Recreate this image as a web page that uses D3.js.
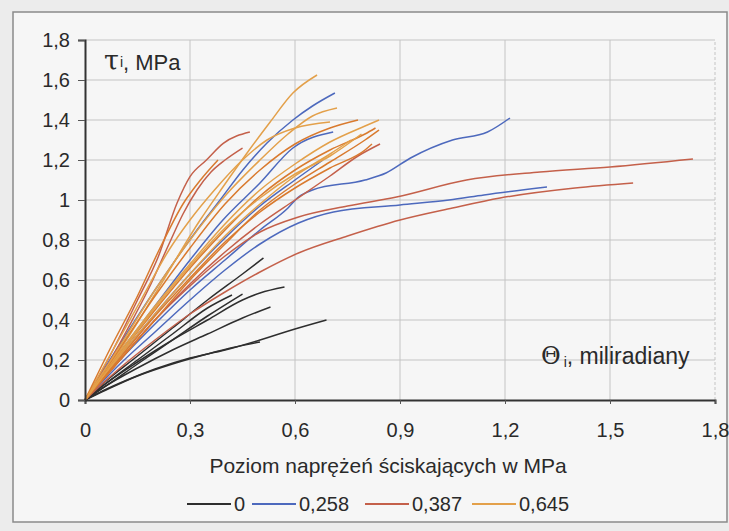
<!DOCTYPE html>
<html>
<head>
<meta charset="utf-8">
<script src="https://cdn.jsdelivr.net/npm/d3@7/dist/d3.min.js"></script>
<style>
  body { margin: 0; background: #ececec; }
  svg { display: block; font-family: "Liberation Sans", Arial, sans-serif; }
</style>
</head>
<body>
<div id="chart"></div>
<script>
// ticks
var xTicks = [0, 0.3, 0.6, 0.9, 1.2, 1.5, 1.8];
var yTicks = [0, 0.2, 0.4, 0.6, 0.8, 1, 1.2, 1.4, 1.6, 1.8];

// legend (poziom naprezen sciskajacych)
var seriesNames = ["0", "0,258", "0,387", "0,645"];
var seriesColors = ["#2e2e2e", "#4d69bd", "#c4604a", "#e3a04a"];

// curves, [theta, tau]
var curves0 = [
  [[0,0],[0.05,0.045],[0.12,0.1],[0.2,0.155],[0.3,0.21],[0.4,0.25],[0.5,0.3],[0.6,0.355],[0.69,0.4]],
  [[0,0],[0.06,0.05],[0.15,0.12],[0.25,0.18],[0.35,0.23],[0.43,0.265],[0.5,0.29]],
  [[0,0],[0.05,0.06],[0.15,0.16],[0.25,0.25],[0.35,0.33],[0.45,0.41],[0.53,0.465]],
  [[0,0],[0.05,0.07],[0.15,0.19],[0.25,0.3],[0.35,0.4],[0.45,0.5],[0.5,0.535],[0.57,0.565]],
  [[0,0],[0.05,0.08],[0.15,0.22],[0.25,0.36],[0.35,0.5],[0.45,0.63],[0.51,0.71]],
  [[0,0],[0.05,0.07],[0.15,0.2],[0.25,0.33],[0.35,0.46],[0.42,0.525]],
  [[0,0],[0.06,0.07],[0.15,0.18],[0.25,0.3],[0.35,0.42],[0.45,0.53]]
];
var curves258 = [
  [[0,0],[0.1,0.28],[0.2,0.55],[0.32,0.85],[0.386,1],[0.451,1.15],[0.52,1.285],[0.594,1.4],[0.65,1.47],[0.714,1.535]],
  [[0,0],[0.1,0.24],[0.2,0.47],[0.3,0.7],[0.394,0.9],[0.5,1.085],[0.594,1.26],[0.709,1.34]],
  [[0,0],[0.1,0.22],[0.2,0.43],[0.3,0.63],[0.4,0.81],[0.5,0.97],[0.6,1.1],[0.68,1.2]],
  [[0,0],[0.1,0.2],[0.2,0.38],[0.3,0.55],[0.4,0.7],[0.5,0.85],[0.58,0.96],[0.61,1.015],[0.65,1.05],[0.8,1.1],[0.86,1.135],[0.93,1.21],[1.05,1.3],[1.15,1.34],[1.214,1.41]],
  [[0,0],[0.1,0.18],[0.2,0.34],[0.3,0.5],[0.4,0.65],[0.5,0.78],[0.61,0.885],[0.71,0.94],[0.9,0.975],[1.04,1],[1.14,1.025],[1.32,1.065]]
];
var curves387 = [
  [[0,0],[0.1,0.2],[0.2,0.4],[0.3,0.57],[0.4,0.72],[0.5,0.84],[0.61,0.915],[0.75,0.97],[0.89,1.015],[1.09,1.1],[1.3,1.14],[1.5,1.165],[1.737,1.205]],
  [[0,0],[0.1,0.16],[0.2,0.3],[0.3,0.43],[0.4,0.54],[0.5,0.64],[0.61,0.735],[0.75,0.82],[0.9,0.9],[1.05,0.96],[1.186,1.01],[1.4,1.06],[1.566,1.085]],
  [[0,0],[0.05,0.15],[0.1,0.32],[0.15,0.5],[0.209,0.715],[0.263,0.985],[0.3,1.117],[0.347,1.2],[0.395,1.283],[0.471,1.34]],
  [[0,0],[0.06,0.16],[0.12,0.35],[0.18,0.55],[0.24,0.78],[0.28,0.93],[0.32,1.05],[0.36,1.14],[0.4,1.2],[0.45,1.26]],
  [[0,0],[0.1,0.2],[0.2,0.4],[0.3,0.58],[0.4,0.74],[0.5,0.88],[0.6,1],[0.7,1.12],[0.78,1.22],[0.843,1.28]]
];
var curves645 = [
  [[0,0],[0.1,0.25],[0.2,0.53],[0.329,0.9],[0.394,1.065],[0.463,1.235],[0.529,1.39],[0.594,1.535],[0.663,1.625]],
  [[0,0],[0.1,0.26],[0.2,0.52],[0.3,0.76],[0.4,0.98],[0.5,1.15],[0.6,1.28],[0.7,1.36],[0.78,1.4]],
  [[0,0],[0.1,0.24],[0.2,0.47],[0.3,0.68],[0.4,0.88],[0.5,1.05],[0.6,1.18],[0.7,1.29],[0.8,1.37],[0.84,1.4]],
  [[0,0],[0.1,0.23],[0.2,0.45],[0.3,0.66],[0.4,0.85],[0.5,1.02],[0.6,1.15],[0.7,1.25],[0.8,1.33],[0.83,1.36]],
  [[0,0],[0.1,0.22],[0.2,0.43],[0.3,0.63],[0.4,0.82],[0.5,0.98],[0.6,1.12],[0.7,1.23],[0.76,1.3]],
  [[0,0],[0.1,0.2],[0.2,0.4],[0.3,0.6],[0.4,0.78],[0.5,0.95],[0.6,1.08],[0.7,1.19],[0.8,1.3],[0.84,1.35]],
  [[0,0],[0.08,0.25],[0.16,0.5],[0.24,0.75],[0.3,0.9],[0.37,1.05],[0.45,1.2],[0.52,1.3],[0.6,1.36],[0.7,1.39]],
  [[0,0],[0.07,0.25],[0.15,0.52],[0.22,0.78],[0.28,0.98],[0.33,1.1],[0.38,1.2]],
  [[0,0],[0.1,0.27],[0.2,0.55],[0.3,0.8],[0.4,1.02],[0.5,1.2],[0.58,1.33],[0.65,1.42],[0.72,1.46]],
  [[0,0],[0.1,0.21],[0.2,0.42],[0.3,0.61],[0.4,0.79],[0.5,0.94],[0.6,1.06],[0.7,1.16],[0.8,1.25],[0.82,1.28]],
  [[0,0],[0.1,0.23],[0.2,0.46],[0.3,0.67],[0.4,0.86],[0.5,1.01],[0.6,1.13],[0.7,1.22],[0.79,1.33]]
];
var allCurves = [curves0, curves258, curves387, curves645];

var W = 729, H = 531;
var svg = d3.select("#chart").append("svg")
  .attr("width", W)
  .attr("height", H);

// frame of the scanned figure
svg.append("rect")
  .attr("x", 13).attr("y", 12)
  .attr("width", 714).attr("height", 510)
  .attr("fill", "#f6f6f6")
  .attr("stroke", "#8a8a8a")
  .attr("stroke-width", 1.5);

var x = d3.scaleLinear().domain([0, 1.8]).range([85, 715]);
var y = d3.scaleLinear().domain([0, 1.8]).range([400, 40]);

// grid
svg.append("g").selectAll("line")
  .data(yTicks.slice(1))
  .enter().append("line")
  .attr("x1", x(0)).attr("x2", x(1.8))
  .attr("y1", function(d) { return y(d); })
  .attr("y2", function(d) { return y(d); })
  .attr("stroke", "#c4c4c4").attr("stroke-width", 1);
svg.append("g").selectAll("line")
  .data(xTicks.slice(1))
  .enter().append("line")
  .attr("y1", y(0)).attr("y2", y(1.8))
  .attr("x1", function(d) { return x(d); })
  .attr("x2", function(d) { return x(d); })
  .attr("stroke", "#c4c4c4").attr("stroke-width", 1)
  .attr("stroke-dasharray", function(d) { return d == 1.8 ? "3,2" : null; });

// curves
var line = d3.line()
  .x(function(d) { return x(d[0]); })
  .y(function(d) { return y(d[1]); })
  .curve(d3.curveMonotoneX);

allCurves.forEach(function(group, s) {
  svg.append("g").selectAll("path")
    .data(group)
    .enter().append("path")
    .attr("d", line)
    .attr("fill", "none")
    .attr("stroke", function(d, i) {
      if (s == 3 && i % 2 == 1) return "#d97a2e";
      return seriesColors[s];
    })
    .attr("stroke-width", 1.5);
});

// axes
var fmt = function(d) { return d3.format(".1f")(d).replace(".", ",").replace(",0", ""); };
var xAxis = d3.axisBottom(x).tickValues(xTicks).tickFormat(fmt)
  .tickSize(4).tickPadding(19);
var yAxis = d3.axisLeft(y).tickValues(yTicks).tickFormat(fmt)
  .tickSize(7).tickPadding(8);

var gx = svg.append("g").attr("transform", "translate(0," + y(0) + ")").call(xAxis);
var gy = svg.append("g").attr("transform", "translate(" + x(0) + ",0)").call(yAxis);
[gx, gy].forEach(function(g) {
  g.select(".domain").attr("stroke", "#333").attr("stroke-width", 2);
  g.selectAll(".tick line").attr("stroke", "#555");
  g.selectAll(".tick text").attr("font-size", 20).attr("fill", "#2a2a2a")
    .attr("font-family", "'Liberation Sans', Arial, sans-serif");
});

// axis labels
var tl = svg.append("text").attr("x", 104).attr("y", 70).attr("fill", "#2a2a2a");
tl.append("tspan").attr("font-size", 27).attr("font-family", "'DejaVu Serif', serif").text("τ");
tl.append("tspan").attr("font-size", 14).attr("dx", 1).attr("dy", -3).text("i");
tl.append("tspan").attr("font-size", 22).attr("dy", 3).text(", MPa");

var th = svg.append("text").attr("x", 541).attr("y", 364).attr("fill", "#2a2a2a");
th.append("tspan").attr("font-size", 24).attr("font-family", "'DejaVu Serif', serif").text("Θ");
th.append("tspan").attr("font-size", 14).attr("dx", 3).attr("dy", 3).text("i");
th.append("tspan").attr("font-size", 23).attr("dy", -3).text(", miliradiany");

svg.append("text")
  .attr("x", 388).attr("y", 473)
  .attr("text-anchor", "middle")
  .attr("font-size", 21).attr("fill", "#2a2a2a")
  .text("Poziom naprężeń ściskających w MPa");

// legend
var legX = [187, 252, 365, 472];
var leg = svg.append("g").selectAll("g")
  .data(seriesNames)
  .enter().append("g")
  .attr("transform", function(d, i) { return "translate(" + legX[i] + ",504)"; });
leg.append("line")
  .attr("x1", 0).attr("x2", 44)
  .attr("stroke", function(d, i) { return seriesColors[i]; })
  .attr("stroke-width", 2);
leg.append("text")
  .attr("x", 47).attr("y", 7)
  .attr("font-size", 20).attr("fill", "#2a2a2a")
  .text(function(d) { return d; });
</script>
</body>
</html>
